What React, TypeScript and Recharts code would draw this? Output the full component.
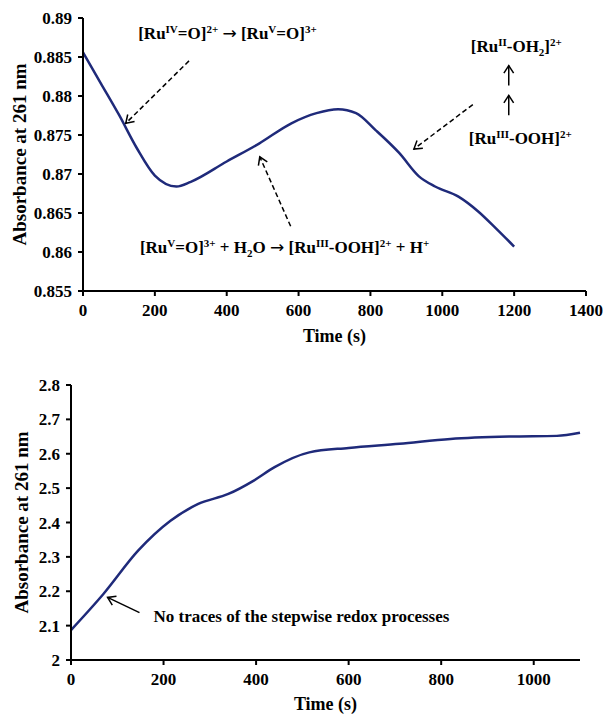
import { LineChart, Line, XAxis, YAxis, ReferenceLine, ReferenceDot } from "recharts";

// top panel: stepwise oxidation
const topTime = [0, 50, 100, 150, 200, 260, 300, 400, 490, 580, 650, 710, 760, 815, 880, 935, 980, 1045, 1100, 1150, 1200];
const topAbs = [0.8856, 0.8816, 0.8776, 0.8733, 0.8698, 0.8684, 0.869, 0.8716, 0.8739, 0.8765, 0.8778, 0.8783, 0.8778, 0.8756, 0.8727, 0.8697, 0.8684, 0.8671, 0.8652, 0.863, 0.8607];
const topXTicks = [0, 200, 400, 600, 800, 1000, 1200, 1400];
const topYTicks = [0.855, 0.86, 0.865, 0.87, 0.875, 0.88, 0.885, 0.89];

// bottom panel: no stepwise processes
const botTime = [0, 70, 145, 215, 275, 340, 395, 440, 515, 600, 710, 820, 950, 1050, 1100];
const botAbs = [2.087, 2.192, 2.318, 2.405, 2.454, 2.483, 2.522, 2.561, 2.604, 2.617, 2.629, 2.643, 2.65, 2.652, 2.661];
const botXTicks = [0, 200, 400, 600, 800, 1000];
const botYTicks = [2, 2.1, 2.2, 2.3, 2.4, 2.5, 2.6, 2.7, 2.8];

const topData = topTime.map((t, i) => ({ t, v: topAbs[i] }));
const botData = botTime.map((t, i) => ({ t, v: botAbs[i] }));

type Part = [string, string];

const ann1: Part[] = [["[Ru", ""], ["IV", "sup"], ["=O]", ""], ["2+", "sup"], [" ", ""], ["\u2192", "arrow"], [" [Ru", ""], ["V", "sup"], ["=O]", ""], ["3+", "sup"]];
const ann2: Part[] = [["[Ru", ""], ["V", "sup"], ["=O]", ""], ["3+", "sup"], [" + H", ""], ["2", "sub"], ["O ", ""], ["\u2192", "arrow"], [" [Ru", ""], ["III", "sup"], ["-OOH]", ""], ["2+", "sup"], [" + H", ""], ["+", "sup"]];
const ann3: Part[] = [["[Ru", ""], ["II", "sup"], ["-OH", ""], ["2", "sub"], ["]", ""], ["2+", "sup"]];
const ann4: Part[] = [["[Ru", ""], ["III", "sup"], ["-OOH]", ""], ["2+", "sup"]];

const FONT = "'Liberation Serif', 'Times New Roman', serif";
const LINE_COLOR = "#1f2a7a";

const tickStyle = { fill: "#000", fontSize: 17, fontWeight: "bold", fontFamily: FONT };
const axisStyle = { stroke: "#000", strokeWidth: 2 };
const titleStyle = { fontSize: 18, fontWeight: "bold", fontFamily: FONT, fill: "#000" };

function ChemText({ x, y, parts, size = 17 }: { x: number; y: number; parts: Part[]; size?: number }) {
  let cur = 0;
  return (
    <text x={x} y={y + 6} textAnchor="middle" fontFamily={FONT} fontWeight="bold" fontSize={size} fill="#000" style={{ whiteSpace: "pre" }}>
      {parts.map(([s, m], i) => {
        const target = m === "sup" ? -6 : m === "sub" ? 4 : 0;
        const dy = target - cur;
        cur = target;
        if (m === "arrow") {
          return (
            <tspan key={i} dy={dy} fontSize={size} fontWeight="normal" fontFamily="'DejaVu Sans', sans-serif">
              {s}
            </tspan>
          );
        }
        return (
          <tspan key={i} dy={dy} fontSize={m ? 11 : size}>
            {s}
          </tspan>
        );
      })}
    </text>
  );
}

const arrowShape = (dashed: boolean) => (p: any) => {
  const { x1, y1, x2, y2 } = p;
  const ang = Math.atan2(y2 - y1, x2 - x1);
  const h = 9;
  const a = Math.PI / 5.5;
  const ax = x2 - h * Math.cos(ang - a);
  const ay = y2 - h * Math.sin(ang - a);
  const bx = x2 - h * Math.cos(ang + a);
  const by = y2 - h * Math.sin(ang + a);
  return (
    <g>
      <line x1={x1} y1={y1} x2={x2} y2={y2} stroke="#000" strokeWidth={1.5} strokeDasharray={dashed ? "5 3" : undefined} />
      <path d={`M${ax},${ay}L${x2},${y2}L${bx},${by}`} fill="none" stroke="#000" strokeWidth={1.5} />
    </g>
  );
};

function TopChart() {
  return (
    <LineChart width={609} height={350} data={topData} margin={{ top: 18, right: 23, bottom: 0, left: 0 }}>
      <XAxis
        type="number"
        dataKey="t"
        domain={[0, 1400]}
        ticks={topXTicks}
        height={59}
        tick={tickStyle}
        tickSize={5}
        tickMargin={8}
        axisLine={axisStyle}
        tickLine={axisStyle}
        label={{ value: "Time (s)", position: "insideBottom", offset: 8, style: titleStyle }}
      />
      <YAxis
        type="number"
        domain={[0.855, 0.89]}
        ticks={topYTicks}
        width={83}
        tick={tickStyle}
        tickSize={5}
        tickMargin={6}
        axisLine={axisStyle}
        tickLine={axisStyle}
        label={{ value: "Absorbance at 261 nm", angle: -90, position: "insideLeft", offset: 19, style: { ...titleStyle, fontSize: 19, textAnchor: "middle" } }}
      />
      <Line type="monotone" dataKey="v" stroke={LINE_COLOR} strokeWidth={2.5} dot={false} isAnimationActive={false} />

      <ReferenceLine segment={[{ x: 295, y: 0.8845 }, { x: 119, y: 0.8765 }]} ifOverflow="visible" shape={arrowShape(true)} />
      <ReferenceLine segment={[{ x: 578, y: 0.8633 }, { x: 492, y: 0.8722 }]} ifOverflow="visible" shape={arrowShape(true)} />
      <ReferenceLine segment={[{ x: 1085, y: 0.8789 }, { x: 921, y: 0.8732 }]} ifOverflow="visible" shape={arrowShape(true)} />
      <ReferenceLine segment={[{ x: 1185, y: 0.88135 }, { x: 1185, y: 0.8839 }]} ifOverflow="visible" shape={arrowShape(false)} />
      <ReferenceLine segment={[{ x: 1185, y: 0.87753 }, { x: 1185, y: 0.88008 }]} ifOverflow="visible" shape={arrowShape(false)} />

      <ReferenceDot x={402} y={0.8881} r={0} ifOverflow="visible" shape={(p: any) => <ChemText x={p.cx} y={p.cy} parts={ann1} />} />
      <ReferenceDot x={561} y={0.8606} r={0} ifOverflow="visible" shape={(p: any) => <ChemText x={p.cx} y={p.cy} parts={ann2} />} />
      <ReferenceDot x={1206} y={0.88644} r={0} ifOverflow="visible" shape={(p: any) => <ChemText x={p.cx} y={p.cy} parts={ann3} />} />
      <ReferenceDot x={1217} y={0.87457} r={0} ifOverflow="visible" shape={(p: any) => <ChemText x={p.cx} y={p.cy} parts={ann4} />} />
    </LineChart>
  );
}

function BottomChart() {
  return (
    <LineChart width={609} height={364} data={botData} margin={{ top: 35, right: 29, bottom: 0, left: 0 }}>
      <XAxis
        type="number"
        dataKey="t"
        domain={[0, 1100]}
        ticks={botXTicks}
        height={54}
        tick={tickStyle}
        tickSize={5}
        tickMargin={8}
        axisLine={axisStyle}
        tickLine={axisStyle}
        label={{ value: "Time (s)", position: "insideBottom", offset: 4, style: titleStyle }}
      />
      <YAxis
        type="number"
        domain={[2, 2.8]}
        ticks={botYTicks}
        width={71}
        tick={tickStyle}
        tickSize={5}
        tickMargin={6}
        axisLine={axisStyle}
        tickLine={axisStyle}
        label={{ value: "Absorbance at 261 nm", angle: -90, position: "insideLeft", offset: 21, style: { ...titleStyle, fontSize: 19, textAnchor: "middle" } }}
      />
      <Line type="monotone" dataKey="v" stroke={LINE_COLOR} strokeWidth={2.5} dot={false} isAnimationActive={false} />

      <ReferenceLine segment={[{ x: 148, y: 2.138 }, { x: 79, y: 2.182 }]} ifOverflow="visible" shape={arrowShape(false)} />
      <ReferenceDot
        x={498}
        y={2.128}
        r={0}
        ifOverflow="visible"
        shape={(p: any) => <ChemText x={p.cx} y={p.cy} parts={[["No traces of the stepwise redox processes", ""]]} />}
      />
    </LineChart>
  );
}

export default function App() {
  return (
    <div style={{ position: "absolute", left: 0, top: 0, width: 609, height: 714, background: "#fff", fontFamily: FONT }}>
      <TopChart />
      <BottomChart />
    </div>
  );
}
